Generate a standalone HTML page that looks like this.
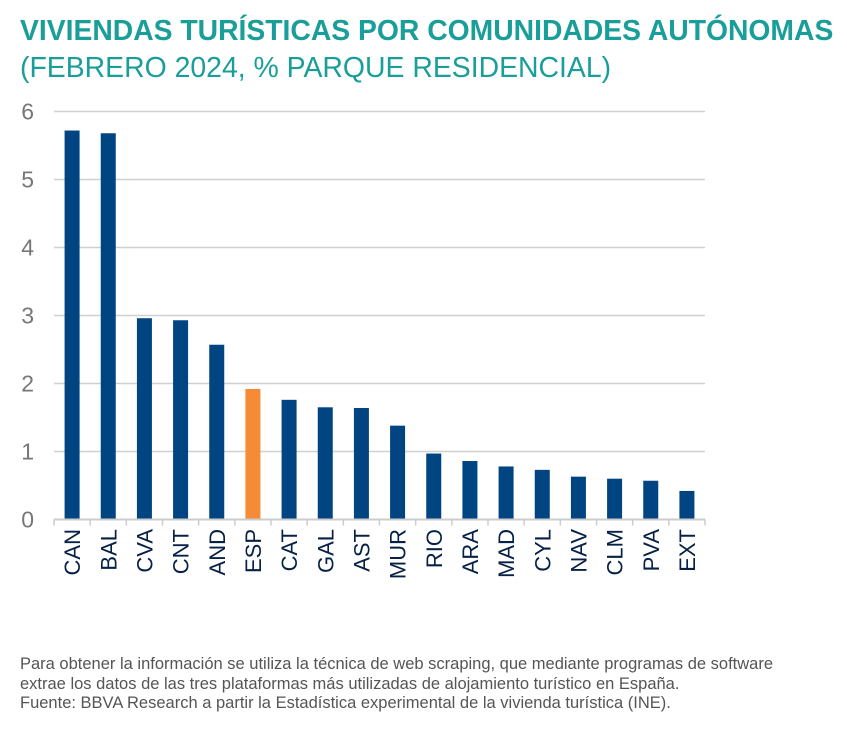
<!DOCTYPE html>
<html><head><meta charset="utf-8"><style>
body{margin:0;background:#fff;width:847px;height:731px;overflow:hidden;font-family:"Liberation Sans",sans-serif;}
.t1{position:absolute;left:20px;top:14px;font-size:28.3px;font-weight:bold;color:#1a9e9a;white-space:nowrap;}
.t2{position:absolute;left:20px;top:52px;font-size:28.4px;color:#1a9e9a;white-space:nowrap;}
.note{position:absolute;left:20px;top:655px;font-size:16.5px;color:#555;line-height:19.5px;white-space:nowrap;}
</style></head><body>
<div class="t1">VIVIENDAS TURÍSTICAS POR COMUNIDADES AUTÓNOMAS</div>
<div class="t2">(FEBRERO 2024, % PARQUE RESIDENCIAL)</div>
<svg id="c" width="847" height="731" style="position:absolute;left:0;top:0"></svg>
<div class="note">Para obtener la información se utiliza la técnica de web scraping, que mediante programas de software<br>extrae los datos de las tres plataformas más utilizadas de alojamiento turístico en España.<br>Fuente: BBVA Research a partir la Estadística experimental de la vivienda turística (INE).</div>
<script>
const categories=["CAN","BAL","CVA","CNT","AND","ESP","CAT","GAL","AST","MUR","RIO","ARA","MAD","CYL","NAV","CLM","PVA","EXT"];
const values=[5.72,5.68,2.96,2.93,2.57,1.92,1.76,1.65,1.64,1.38,0.97,0.86,0.78,0.73,0.63,0.60,0.57,0.42];
const yTicks=[0,1,2,3,4,5,6];
const NS="http://www.w3.org/2000/svg",svg=document.getElementById('c');
const x0=54,x1=705,yb=519.5,yt=111.5,ymax=6;
const y=v=>yb-(v/ymax)*(yb-yt);
const bw=(x1-x0)/categories.length;
const xc=i=>x0+bw*(i+0.5);
function mk(t,a){const e=document.createElementNS(NS,t);for(const k in a)e.setAttribute(k,a[k]);svg.appendChild(e);return e;}
yTicks.forEach(v=>{
 if(v>0){const g=mk('line',{x1:x0,x2:x1,y1:y(v),y2:y(v),stroke:'#d0d0d0','stroke-width':1.5});
 
 }
 const t=mk('text',{x:34,y:y(v)+8,'text-anchor':'end','font-size':23,fill:'#777','font-family':'Liberation Sans'});
 t.textContent=v;
 
 
});
categories.forEach((c,i)=>{
 const b=mk('rect',{x:xc(i)-7.5,y:y(values[i]),width:15,height:yb-y(values[i]),fill:c==='ESP'?'#f68b37':'#004481'});
 
 
 const t=mk('text',{transform:`translate(${xc(i)+8},529) rotate(-90)`,'text-anchor':'end','font-size':22,fill:'#072146','font-family':'Liberation Sans'});
 t.textContent=c;
 
 
});
for(let i=0;i<=categories.length;i++){
 const k=mk('line',{x1:x0+bw*i,x2:x0+bw*i,y1:yb,y2:yb+6,stroke:'#ccc','stroke-width':1.5});
 
 
}
const ax=mk('line',{x1:x0,x2:x1,y1:yb,y2:yb,stroke:'#ccc','stroke-width':2});


</script>
</body></html>
